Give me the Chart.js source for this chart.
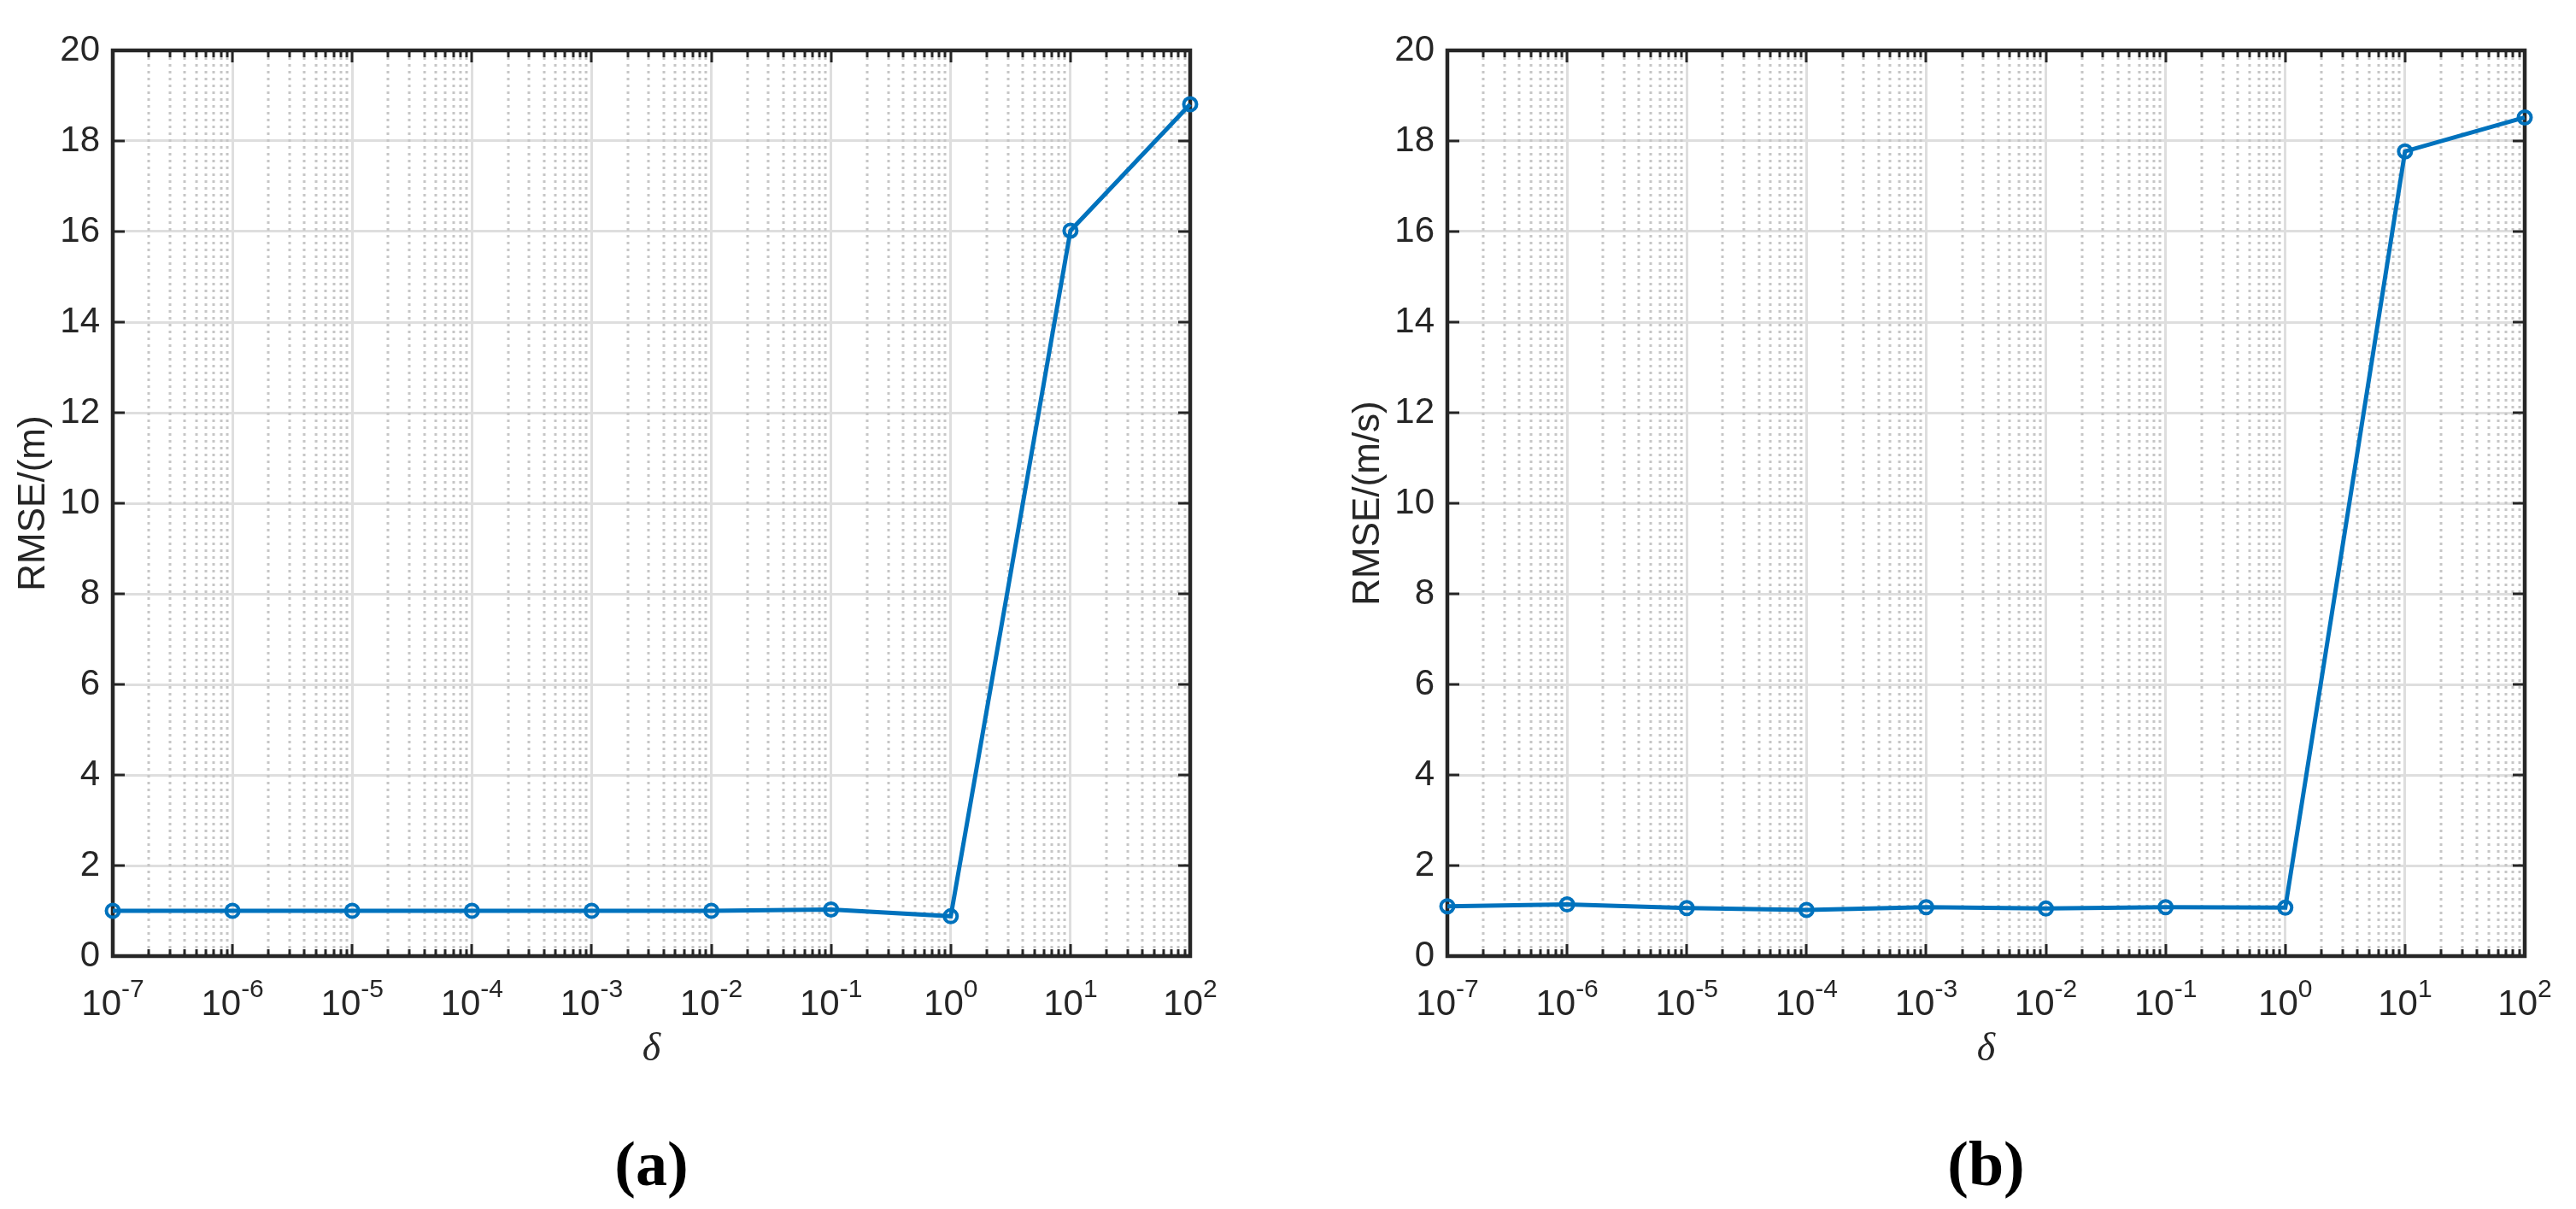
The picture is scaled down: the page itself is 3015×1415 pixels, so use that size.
<!DOCTYPE html>
<html>
<head>
<meta charset="utf-8">
<script src="https://cdn.jsdelivr.net/npm/chart.js@4.4.1/dist/chart.umd.min.js"></script>
<style>
  html, body { margin: 0; padding: 0; background: #fff; }
  body { width: 3015px; height: 1415px; position: relative; overflow: hidden; }
  canvas { position: absolute; top: 0; }
  .panel-label {
    position: absolute; top: 1325px; width: 1525px; text-align: center;
    font: bold 74px "Liberation Serif", serif; line-height: 74px; color: #000;
  }
</style>
</head>
<body>
<canvas id="chartA" width="1453" height="1300" style="left:0px"></canvas>
<canvas id="chartB" width="1453" height="1300" style="left:1562px"></canvas>
<div class="panel-label" style="left:0px">(a)</div>
<div class="panel-label" style="left:1562px">(b)</div>
<script>
// delta values (x axis, log)
const deltaValues = [1e-7, 1e-6, 1e-5, 1e-4, 1e-3, 1e-2, 1e-1, 1, 10, 100];
// RMSE of position (m), panel (a)
const rmsePosition = [1.00, 1.00, 1.00, 1.00, 1.00, 1.00, 1.03, 0.88, 16.02, 18.81];
// RMSE of velocity (m/s), panel (b)
const rmseVelocity = [1.10, 1.14, 1.06, 1.02, 1.08, 1.05, 1.08, 1.07, 17.77, 18.52];

// tick labels
const xTickExponents = [-7, -6, -5, -4, -3, -2, -1, 0, 1, 2];
const minorFactors = [2, 3, 4, 5, 6, 7, 8, 9];
const yMin = 0, yMax = 20, yStep = 2;

const axisColor = '#262626';
const lineColor = '#0072BD';

const decades = xTickExponents.map(e => Number('1e' + e));
const minorValues = [];
decades.slice(0, -1).forEach(d => minorFactors.forEach(f => minorValues.push(f * d)));

// MATLAB style box, inward ticks, minor dotted grid, 10^n labels
const matlabAxes = {
  id: 'matlabAxes',
  beforeDatasetsDraw(chart) {
    const { ctx, chartArea: a, scales: { x, y } } = chart;
    ctx.save();
    // minor grid
    ctx.strokeStyle = '#c6c6c6';
    ctx.lineWidth = 3;
    ctx.setLineDash([3, 5]);
    minorValues.forEach(v => {
      const px = Math.round(x.getPixelForValue(v));
      ctx.beginPath();
      ctx.moveTo(px, a.top);
      ctx.lineTo(px, a.bottom);
      ctx.stroke();
    });
    ctx.setLineDash([]);

    // ticks
    ctx.strokeStyle = axisColor;
    ctx.lineWidth = 3;
    const tick = (x0, y0, x1, y1) => {
      ctx.beginPath(); ctx.moveTo(x0, y0); ctx.lineTo(x1, y1); ctx.stroke();
    };
    decades.forEach(v => {
      const px = Math.round(x.getPixelForValue(v));
      tick(px, a.bottom, px, a.bottom - 14);
      tick(px, a.top, px, a.top + 14);
    });
    minorValues.forEach(v => {
      const px = Math.round(x.getPixelForValue(v));
      tick(px, a.bottom, px, a.bottom - 8);
      tick(px, a.top, px, a.top + 8);
    });
    for (let v = yMin; v <= yMax; v += yStep) {
      const py = Math.round(y.getPixelForValue(v));
      tick(a.left, py, a.left + 14, py);
      tick(a.right, py, a.right - 14, py);
    }

    // box
    ctx.lineWidth = 4.5;
    ctx.strokeRect(a.left, a.top, a.right - a.left, a.bottom - a.top);
    ctx.restore();
  },
  afterDraw(chart) {
    const { ctx, chartArea: a, scales: { x } } = chart;
    ctx.save();
    ctx.fillStyle = axisColor;
    ctx.textBaseline = 'alphabetic';
    ctx.textAlign = 'left';
    const baseFont = '42px "Liberation Sans", Arial, sans-serif';
    const expFont = '30px "Liberation Sans", Arial, sans-serif';
    xTickExponents.forEach((e, i) => {
      const px = x.getPixelForValue(decades[i]);
      const expText = String(e);
      ctx.font = baseFont;
      const wBase = ctx.measureText('10').width;
      ctx.font = expFont;
      const wExp = ctx.measureText(expText).width;
      const x0 = px - (wBase + wExp) / 2;
      ctx.font = baseFont;
      ctx.fillText('10', x0, a.bottom + 69);
      ctx.font = expFont;
      ctx.fillText(expText, x0 + wBase, a.bottom + 48);
    });
    ctx.restore();
  }
};

function createRmseChart(canvasId, values, yTitle) {
  const ctx = document.getElementById(canvasId).getContext('2d');
  return new Chart(ctx, {
    type: 'line',
    data: {
      datasets: [{
        data: deltaValues.map((d, i) => ({ x: d, y: values[i] })),
        borderColor: lineColor,
        backgroundColor: 'rgba(0,0,0,0)',
        borderWidth: 5,
        tension: 0,
        pointStyle: 'circle',
        pointRadius: 7.5,
        pointBorderWidth: 4,
        pointBorderColor: lineColor,
        pointBackgroundColor: 'rgba(0,0,0,0)',
        clip: false,
      }],
    },
    options: {
      responsive: false,
      animation: false,
      layout: { padding: { top: 59, left: 0, right: 60, bottom: 0 } },
      plugins: { legend: { display: false }, tooltip: { enabled: false } },
      scales: {
        x: {
          type: 'logarithmic',
          min: decades[0],
          max: decades[decades.length - 1],
          afterBuildTicks: (scale) => {
            scale.ticks = decades.map(v => ({ value: v, major: true }));
          },
          afterFit: (scale) => { scale.height = 181; },
          ticks: { display: false },
          grid: { color: '#dedede', lineWidth: 3, drawTicks: false },
          border: { display: false },
          title: {
            display: true,
            text: 'δ',
            color: axisColor,
            font: { family: '"Liberation Serif", serif', style: 'italic', size: 46 },
            padding: { top: 0, bottom: 43 },
          },
        },
        y: {
          min: yMin,
          max: yMax,
          afterFit: (scale) => { scale.width = 132; },
          ticks: {
            stepSize: yStep,
            padding: 15,
            color: axisColor,
            font: { family: '"Liberation Sans", Arial, sans-serif', size: 42 },
          },
          grid: { color: '#dedede', lineWidth: 3, drawTicks: false },
          border: { display: false },
          title: {
            display: true,
            text: yTitle,
            color: axisColor,
            font: { family: '"Liberation Sans", Arial, sans-serif', size: 44 },
            padding: { top: 13, bottom: 0 },
          },
        },
      },
    },
    plugins: [matlabAxes],
  });
}

createRmseChart('chartA', rmsePosition, 'RMSE/(m)');
createRmseChart('chartB', rmseVelocity, 'RMSE/(m/s)');
</script>
</body>
</html>
